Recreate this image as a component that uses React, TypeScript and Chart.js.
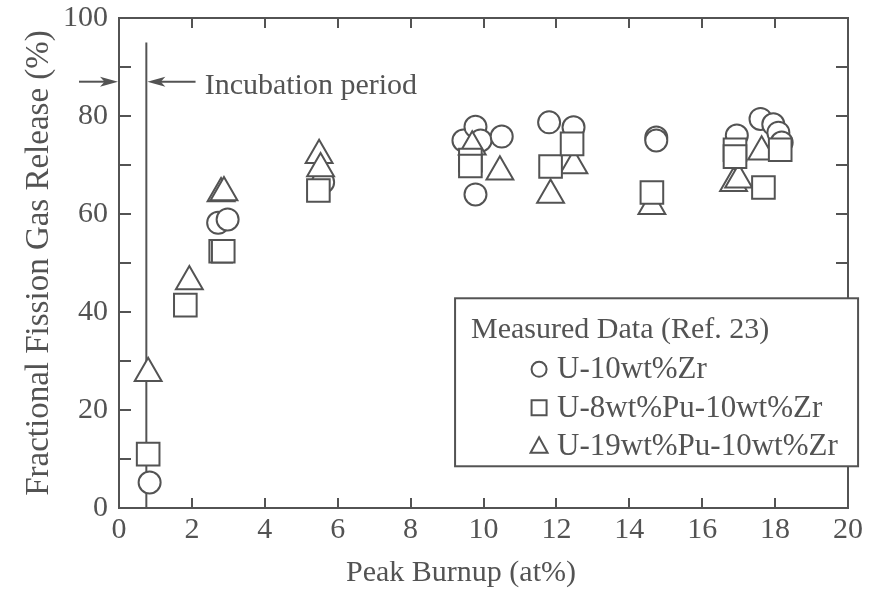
import React, { useEffect, useRef } from 'react';
import { Chart, registerables } from 'chart.js';

Chart.register(...registerables);

const INK = '#535353';
const SERIF = '"Liberation Serif", "Times New Roman", serif';

// U-10wt%Zr
const zrBurnup = [0.84, 2.72, 2.98, 5.6, 9.45, 9.78, 9.92, 9.78, 10.5, 11.8, 12.47, 14.74, 14.74, 16.95, 17.6, 17.95, 18.09, 18.18];
const zrRelease = [5.2, 58.2, 58.9, 66.5, 75.0, 77.8, 75.0, 64.0, 75.8, 78.7, 77.7, 75.6, 75.0, 76.0, 79.4, 78.3, 76.6, 74.6];

// U-8wt%Pu-10wt%Zr
const pu8Burnup = [0.8, 1.82, 2.79, 2.86, 5.47, 9.64, 9.64, 11.84, 12.43, 14.62, 16.9, 16.9, 17.68, 18.14];
const pu8Release = [11.0, 41.4, 52.4, 52.4, 64.8, 71.0, 69.8, 69.7, 74.3, 64.4, 73.1, 71.7, 65.4, 73.1];

// U-19wt%Pu-10wt%Zr
const pu19Burnup = [0.8, 1.93, 2.8, 2.88, 5.49, 5.53, 9.69, 10.45, 11.84, 12.48, 14.62, 16.86, 17.0, 17.63];
const pu19Release = [27.5, 46.2, 64.2, 64.4, 72.0, 69.3, 73.7, 68.6, 63.9, 69.9, 61.6, 66.3, 67.0, 72.7];

const seriesNames = ['U-10wt%Zr', 'U-8wt%Pu-10wt%Zr', 'U-19wt%Pu-10wt%Zr'];
const legendTitle = 'Measured Data (Ref. 23)';
const xTitle = 'Peak Burnup (at%)';
const yTitle = 'Fractional Fission Gas Release (%)';

// incubation period marker
const incubationLabel = 'Incubation period';
const incubationBurnup = 0.75;
const incubationLineTop = 95;
const incubationArrowLevel = 87;
const incubationArrowEnd = 2.1;
const incubationLabelAt = 2.35;

// axis ranges and tick spacing
const xRange = [0, 20];
const yRange = [0, 100];
const xLabelStep = 2;
const yLabelStep = 20;
const xMarkStep = 2;
const yMarkStep = 10;

// legend box anchor (data coordinates of its upper-left corner)
const legendAnchor = [9.22, 42.8];

function toPoints(xs: number[], ys: number[]) {
  return xs.map((x, i) => ({ x, y: ys[i] }));
}

function drawArrow(ctx: CanvasRenderingContext2D, fromX: number, toX: number, y: number) {
  const dir = Math.sign(toX - fromX);
  const head = 18;
  const half = 5;
  ctx.beginPath();
  ctx.moveTo(fromX, y);
  ctx.lineTo(toX - dir * head * 0.6, y);
  ctx.stroke();
  ctx.beginPath();
  ctx.moveTo(toX, y);
  ctx.lineTo(toX - dir * head, y - half);
  ctx.lineTo(toX - dir * head * 0.75, y);
  ctx.lineTo(toX - dir * head, y + half);
  ctx.closePath();
  ctx.fill();
}

function drawMarker(ctx: CanvasRenderingContext2D, style: string, cx: number, cy: number) {
  ctx.beginPath();
  if (style === 'circle') {
    ctx.arc(cx, cy, 7.5, 0, Math.PI * 2);
  } else if (style === 'rect') {
    ctx.rect(cx - 7.5, cy - 7.5, 15, 15);
  } else {
    ctx.moveTo(cx, cy - 9);
    ctx.lineTo(cx + 8.5, cy + 6.5);
    ctx.lineTo(cx - 8.5, cy + 6.5);
    ctx.closePath();
  }
  ctx.stroke();
}

const framePlugin = {
  id: 'frameAndIncubation',
  beforeDatasetsDraw(chart: any) {
    const { ctx, chartArea: a } = chart;
    const xs = chart.scales.x;
    const ys = chart.scales.y;
    ctx.save();
    ctx.strokeStyle = INK;
    ctx.fillStyle = INK;
    ctx.lineWidth = 2;
    ctx.strokeRect(a.left, a.top, a.right - a.left, a.bottom - a.top);

    // inward tick marks on all four sides
    ctx.beginPath();
    for (let v = xRange[0] + xMarkStep; v < xRange[1]; v += xMarkStep) {
      const px = Math.round(xs.getPixelForValue(v));
      ctx.moveTo(px, a.bottom);
      ctx.lineTo(px, a.bottom - 10);
      ctx.moveTo(px, a.top);
      ctx.lineTo(px, a.top + 10);
    }
    for (let v = yRange[0] + yMarkStep; v < yRange[1]; v += yMarkStep) {
      const py = Math.round(ys.getPixelForValue(v));
      ctx.moveTo(a.left, py);
      ctx.lineTo(a.left + 12, py);
      ctx.moveTo(a.right, py);
      ctx.lineTo(a.right - 12, py);
    }
    ctx.stroke();

    // incubation period line with arrows
    const lx = xs.getPixelForValue(incubationBurnup);
    ctx.beginPath();
    ctx.moveTo(lx, ys.getPixelForValue(incubationLineTop));
    ctx.lineTo(lx, a.bottom);
    ctx.stroke();
    const ay = ys.getPixelForValue(incubationArrowLevel);
    drawArrow(ctx, a.left - 40, a.left - 1, ay);
    drawArrow(ctx, xs.getPixelForValue(incubationArrowEnd), lx + 1, ay);
    ctx.font = `30px ${SERIF}`;
    ctx.textAlign = 'left';
    ctx.textBaseline = 'middle';
    ctx.fillText(incubationLabel, xs.getPixelForValue(incubationLabelAt), ay + 4);

    // horizontal axis title
    ctx.textAlign = 'center';
    ctx.fillText(xTitle, 461, 573);
    ctx.restore();
  },
};

const legendPlugin = {
  id: 'boxedLegend',
  afterDatasetsDraw(chart: any) {
    const { ctx } = chart;
    const xs = chart.scales.x;
    const ys = chart.scales.y;
    const left = xs.getPixelForValue(legendAnchor[0]);
    const top = ys.getPixelForValue(legendAnchor[1]);
    const w = 403;
    const h = 168;
    ctx.save();
    ctx.fillStyle = '#ffffff';
    ctx.fillRect(left, top, w, h);
    ctx.strokeStyle = INK;
    ctx.lineWidth = 2;
    ctx.strokeRect(left, top, w, h);
    ctx.fillStyle = INK;
    ctx.font = `30px ${SERIF}`;
    ctx.textAlign = 'left';
    ctx.textBaseline = 'middle';
    ctx.fillText(legendTitle, left + 16, top + 32);
    const styles = ['circle', 'rect', 'triangle'];
    ctx.font = `31px ${SERIF}`;
    chart.data.datasets.forEach((ds: any, i: number) => {
      const cy = top + 71 + i * 38.5;
      drawMarker(ctx, styles[i], left + 84, cy);
      ctx.fillText(ds.label, left + 102, cy + 1);
    });
    ctx.restore();
  },
};

export default function App() {
  const canvasRef = useRef<HTMLCanvasElement | null>(null);

  useEffect(() => {
    const canvas = canvasRef.current;
    if (!canvas) return;
    const base = {
      backgroundColor: '#ffffff',
      borderColor: INK,
      borderWidth: 2,
      showLine: false,
    };
    const chart = new Chart(canvas, {
      type: 'scatter',
      data: {
        datasets: [
          { ...base, label: seriesNames[0], data: toPoints(zrBurnup, zrRelease), pointStyle: 'circle', pointRadius: 11, order: 2 },
          { ...base, label: seriesNames[1], data: toPoints(pu8Burnup, pu8Release), pointStyle: 'rect', pointRadius: 16, order: 0 },
          { ...base, label: seriesNames[2], data: toPoints(pu19Burnup, pu19Release), pointStyle: 'triangle', pointRadius: 15.5, order: 1 },
        ],
      },
      options: {
        animation: false,
        responsive: true,
        maintainAspectRatio: false,
        layout: { padding: { left: 0, top: 16, right: 21, bottom: 0 } },
        plugins: { legend: { display: false }, tooltip: { enabled: false } },
        scales: {
          x: {
            type: 'linear',
            min: xRange[0],
            max: xRange[1],
            grid: { display: false },
            border: { display: false },
            ticks: { stepSize: xLabelStep, color: INK, font: { family: SERIF, size: 30 }, padding: -4, maxRotation: 0 },
            title: { display: false, text: xTitle },
            afterFit: (s: any) => {
              s.height = 83;
              s.paddingLeft = 0;
              s.paddingRight = 0;
            },
          },
          y: {
            type: 'linear',
            min: yRange[0],
            max: yRange[1],
            grid: { display: false },
            border: { display: false },
            ticks: { stepSize: yLabelStep, color: INK, font: { family: SERIF, size: 30 }, padding: 3 },
            title: { display: true, text: yTitle, color: INK, font: { family: SERIF, size: 33 }, padding: { top: 20, bottom: 0 } },
            afterFit: (s: any) => {
              s.width = 119;
              s.paddingTop = 0;
              s.paddingBottom = 0;
            },
          },
        },
      },
      plugins: [framePlugin, legendPlugin],
    });
    return () => chart.destroy();
  }, []);

  return (
    <div style={{ position: 'absolute', left: 0, top: 0, width: 869, height: 591, background: '#ffffff' }}>
      <canvas ref={canvasRef} />
    </div>
  );
}
